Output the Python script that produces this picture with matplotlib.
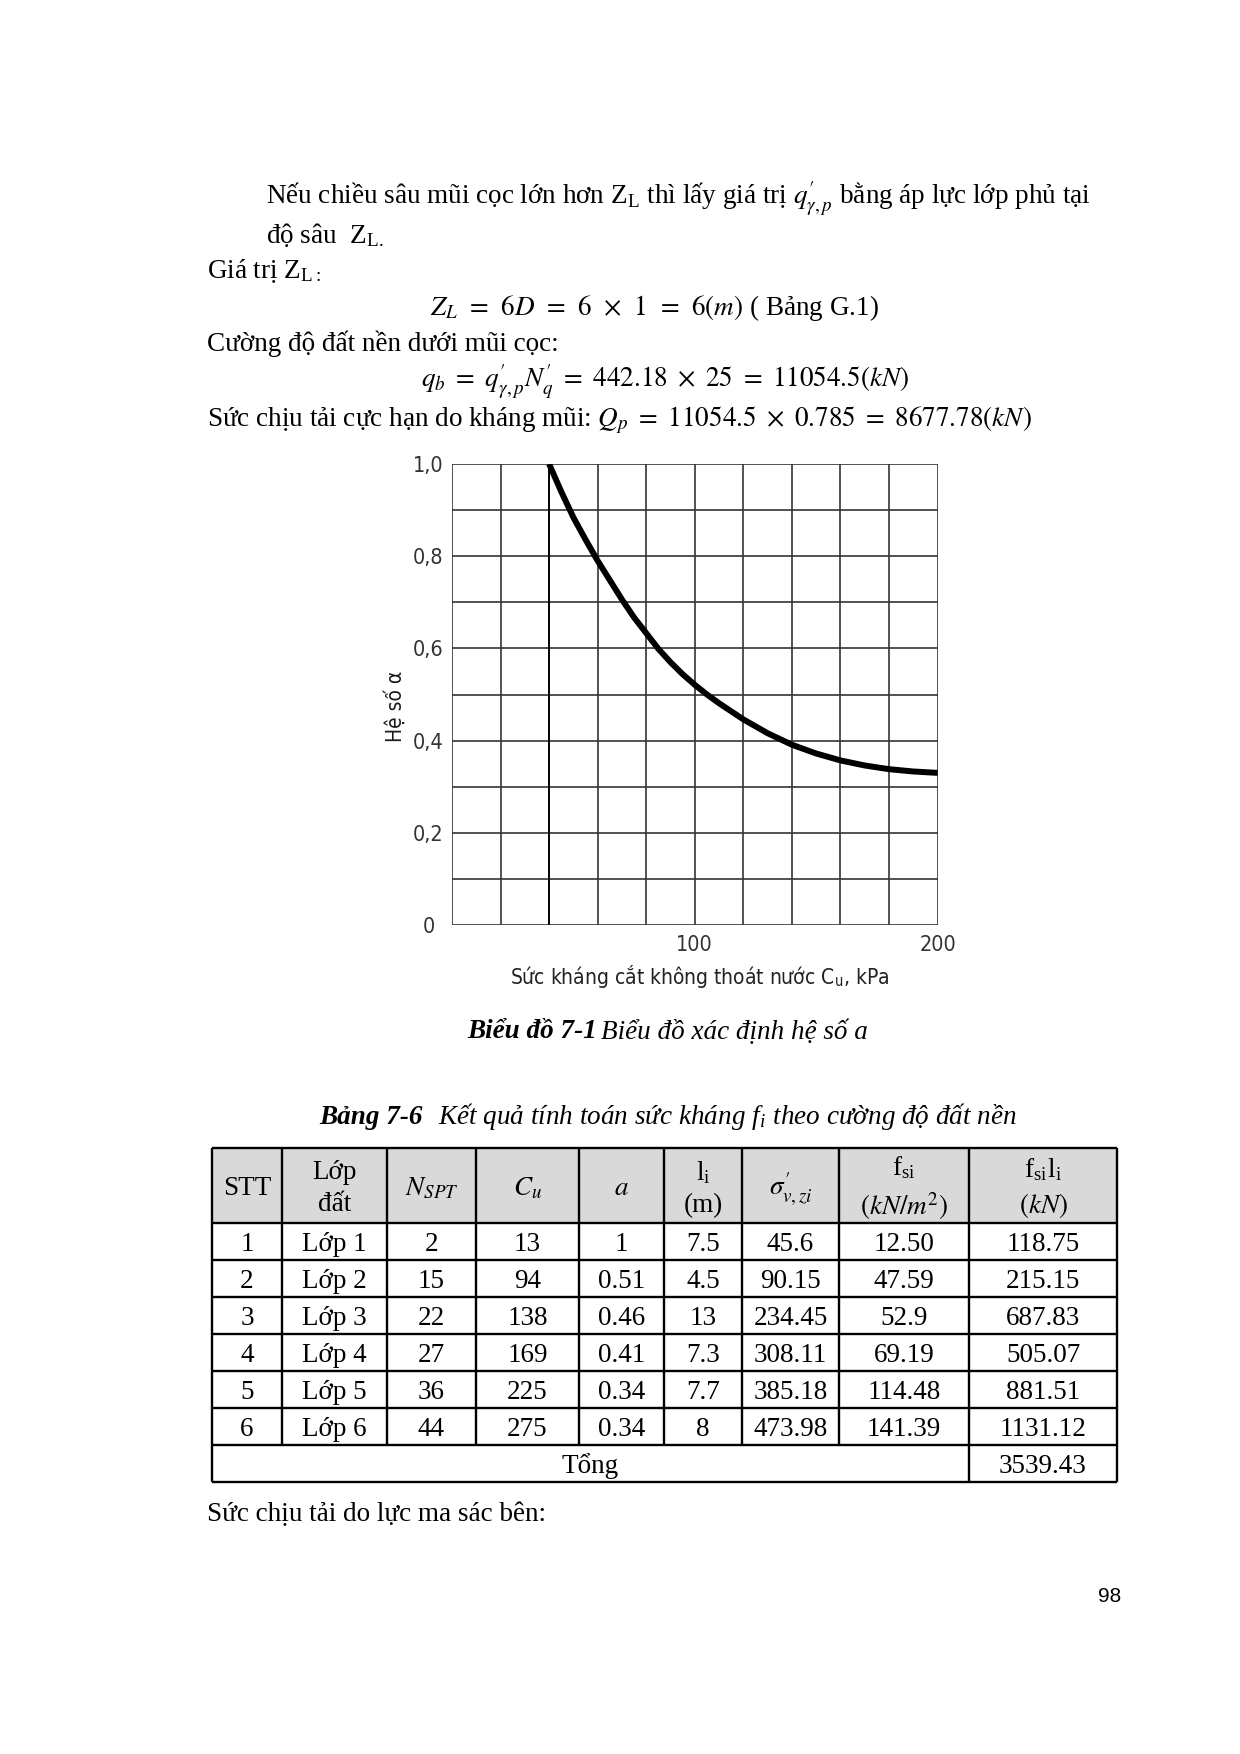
import numpy as np
import matplotlib
matplotlib.use("Agg")
from matplotlib import pyplot as plt

plt.rcParams['mathtext.fontset'] = 'stix'
plt.rcParams['font.family'] = ['Liberation Serif', 'DejaVu Serif']

# %% data (Cu in kPa -> alpha)
cu_curve = [40, 45, 50, 55, 60, 65, 70, 75, 80, 85, 90, 95, 100, 105, 110,
            120, 130, 140, 150, 160, 170, 180, 190, 200]
alpha_curve = [1.000, 0.940, 0.884, 0.836, 0.790, 0.748, 0.706, 0.667, 0.633, 0.599,
               0.570, 0.544, 0.521, 0.500, 0.481, 0.446, 0.416, 0.391, 0.372, 0.357,
               0.346, 0.338, 0.333, 0.330]

ytick_vals = [0, 0.2, 0.4, 0.6, 0.8, 1.0]
ytick_text = ['0', '0,2', '0,4', '0,6', '0,8', '1,0']
xtick_vals = [100, 200]
xtick_text = ['100', '200']

# %% table 7-6
stt = ['1', '2', '3', '4', '5', '6']
lop = ['Lớp 1', 'Lớp 2', 'Lớp 3', 'Lớp 4', 'Lớp 5', 'Lớp 6']
nspt = ['2', '15', '22', '27', '36', '44']
cu = ['13', '94', '138', '169', '225', '275']
a_coef = ['1', '0.51', '0.46', '0.41', '0.34', '0.34']
li = ['7.5', '4.5', '13', '7.3', '7.7', '8']
sigma = ['45.6', '90.15', '234.45', '308.11', '385.18', '473.98']
fsi = ['12.50', '47.59', '52.9', '69.19', '114.48', '141.39']
fsili = ['118.75', '215.15', '687.83', '505.07', '881.51', '1131.12']
total = '3539.43'
headers = ['STT', 'Lớp\nđất', '$N_{SPT}$', '$C_u$', '$a$', 'l$_\\mathregular{i}$\n(m)',
           "$\\sigma^{\\prime}_{v,zi}$", 'f$_\\mathregular{si}$\n$(kN/m^2)$',
           'f$_\\mathregular{si}$l$_\\mathregular{i}$\n$(kN)$']

fig = plt.figure(figsize=(12.4, 17.54), dpi=100)

# page in pixel coordinates
page = fig.add_axes([0, 0, 1, 1])
page.set_xlim(0, 1240)
page.set_ylim(1754, 0)
page.axis('off')

fs = 19.5
dy = 3
page.text(266, 195 + dy, "Nếu chiều sâu mũi cọc lớn hơn Z$_\\mathregular{L}$ thì lấy giá trị "
          "$q^{\\prime}_{\\gamma,p}$ bằng áp lực lớp phủ tại", fontsize=fs, va='center')
page.text(266, 232 + dy, "độ sâu  Z$_\\mathregular{L.}$", fontsize=fs, va='center')
page.text(207, 268 + dy, "Giá trị Z$_\\mathregular{L:}$", fontsize=fs, va='center')
page.text(430, 305 + dy, "$Z_L\\;\\,=\\;\\,6D\\;\\,=\\;\\,6\\;\\,\\times\\;\\,1\\;\\,=\\;\\,6(m)$"
          " ( Bảng G.1)", fontsize=fs, va='center')
page.text(207, 341 + dy, "Cường độ đất nền dưới mũi cọc:", fontsize=fs, va='center')
page.text(421, 378 + dy, "$q_b\\ =\\ q^{\\prime}_{\\gamma,p}N^{\\prime}_q\\ =\\ 442.18\\ \\times\\ 25"
          "\\ =\\ 11054.5(kN)$", fontsize=fs, va='center')
page.text(207, 417 + dy, "Sức chịu tải cực hạn do kháng mũi: "
          "$Q_p\\ =\\ 11054.5\\ \\times\\ 0.785\\ =\\ 8677.78(kN)$", fontsize=fs, va='center')

# captions
page.text(597, 1029 + dy, "Biểu đồ 7-1", fontsize=fs, fontweight='bold', style='italic',
          ha='right', va='center')
page.text(601, 1029 + dy, "Biểu đồ xác định hệ số a", fontsize=fs, style='italic',
          ha='left', va='center')
page.text(423, 1114 + dy, "Bảng 7-6", fontsize=fs, fontweight='bold', style='italic',
          ha='right', va='center')
page.text(438, 1114 + dy, "Kết quả tính toán sức kháng f$_\\mathregular{i}$ theo cường độ đất nền",
          fontsize=fs, style='italic', ha='left', va='center')

# table grid
x_edges = [212, 282, 387, 476, 579, 664, 742, 839, 969, 1117]
y_edges = [1148, 1223, 1260, 1297, 1334, 1371, 1408, 1445, 1482]
page.fill_between([x_edges[0], x_edges[-1]], y_edges[0], y_edges[1], color='#d9d9d9', lw=0)
for y in y_edges:
    page.hlines(y, x_edges[0], x_edges[-1], color='black', lw=1.7)
for i, x in enumerate(x_edges):
    if i in (0, len(x_edges) - 2, len(x_edges) - 1):
        page.vlines(x, y_edges[0], y_edges[-1], color='black', lw=1.7)
    else:
        page.vlines(x, y_edges[0], y_edges[-2], color='black', lw=1.7)

cx = [(x_edges[i] + x_edges[i + 1]) / 2 for i in range(len(x_edges) - 1)]
hy = (y_edges[0] + y_edges[1]) / 2
for x, h in zip(cx, headers):
    page.text(x, hy + dy, h, fontsize=fs, ha='center', va='center', linespacing=1.35)
columns = [stt, lop, nspt, cu, a_coef, li, sigma, fsi, fsili]
for r in range(len(stt)):
    yc = (y_edges[r + 1] + y_edges[r + 2]) / 2 + dy
    for x, col in zip(cx, columns):
        page.text(x, yc, col[r], fontsize=fs, ha='center', va='center')
yt = (y_edges[-2] + y_edges[-1]) / 2 + dy
page.text((x_edges[0] + x_edges[-2]) / 2, yt, 'Tổng', fontsize=fs, ha='center', va='center')
page.text(cx[-1], yt, total, fontsize=fs, ha='center', va='center')

page.text(207, 1512 + dy, "Sức chịu tải do lực ma sác bên:", fontsize=fs, va='center')
page.text(1110, 1593 + dy, "98", fontsize=15, family=['Liberation Sans', 'DejaVu Sans'],
          ha='center', va='center')

# %% chart
sans = ['DejaVu Sans']
tcol = '#333333'
ax = fig.add_axes([452 / 1240, 1 - 925 / 1754, 485.6 / 1240, 461 / 1754])
ax.set_xlim(0, 200)
ax.set_ylim(0, 1)
for v in np.arange(0, 201, 20):
    ax.axvline(v, color='#353535', lw=1.2, zorder=1)
for v in np.arange(0, 1.01, 0.1):
    ax.axhline(v, color='#353535', lw=1.2, zorder=1)
ax.axvline(40, color='black', lw=1.3, zorder=2)
ax.plot(cu_curve, alpha_curve, color='black', lw=4.3, solid_capstyle='butt',
        solid_joinstyle='round', zorder=3)
for s in ax.spines.values():
    s.set_visible(False)
ax.set_xticks(xtick_vals)
ax.set_xticklabels(xtick_text, family=sans, stretch='condensed', fontsize=15.5, color=tcol)
ax.set_yticks(ytick_vals)
ax.set_yticklabels(ytick_text, family=sans, stretch='condensed', fontsize=15.5, color=tcol)
for lab in ax.get_yticklabels():
    lab.set_horizontalalignment('center')
ax.tick_params(axis='both', length=0)
ax.tick_params(axis='y', pad=17)
ax.tick_params(axis='x', pad=7)
ax.set_ylabel('Hệ số α', family=sans, stretch='condensed', fontsize=15, color='#1a1a1a')
ax.yaxis.set_label_coords(-0.095, 0.475)
ax.set_xlabel('Sức kháng cắt không thoát nước C$_\\mathregular{u}$, kPa', family=sans,
              stretch='condensed', fontsize=15, color='#222222')
ax.xaxis.set_label_coords(0.51, -0.082)

fig.savefig('out.png', dpi=100)
